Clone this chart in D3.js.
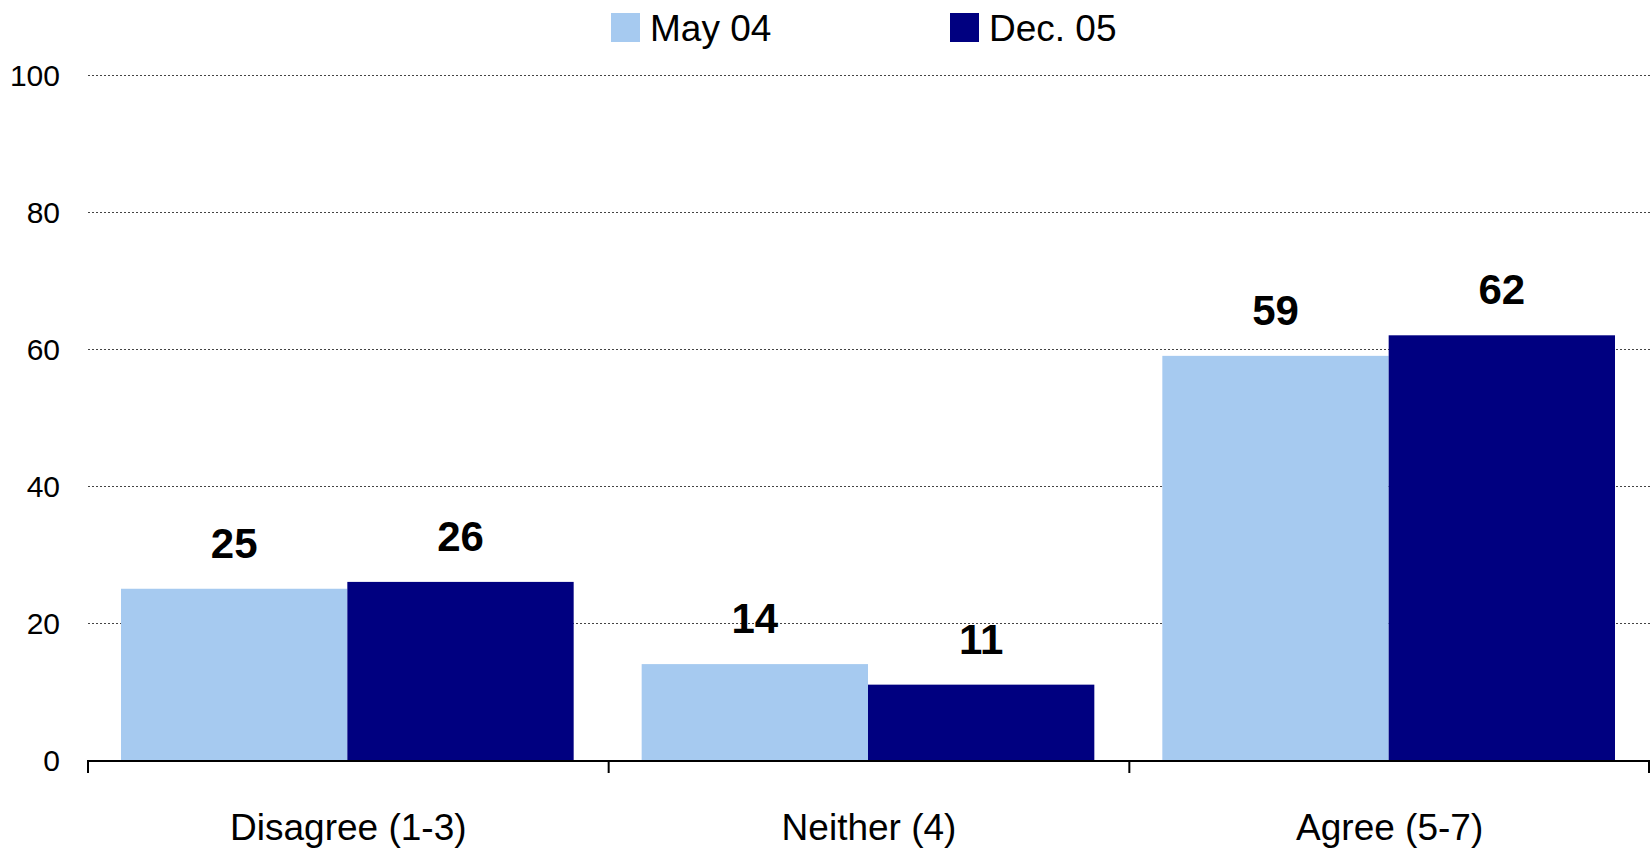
<html>
<head>
<style>
  body { margin: 0; background: #fff; }
  text { font-family: "Liberation Sans", Arial, sans-serif; }
</style>
</head>
<body>
<svg id="chart" width="1650" height="849"></svg>
<script src="https://cdn.jsdelivr.net/npm/d3@7"></script>
<script>
const categories = ["Disagree (1-3)", "Neither (4)", "Agree (5-7)"]
const seriesNames = ["May 04", "Dec. 05"]
const may04 = [25, 14, 59]
const dec05 = [26, 11, 62]
const yTicks = [0, 20, 40, 60, 80, 100]
const colors = ["#A6CAF0", "#000080"]

let svg = d3.select("#chart")

let plotLeft = 88, plotRight = 1650, plotTop = 75, plotBottom = 760

let x0 = d3.scaleBand().domain(categories).range([plotLeft, plotRight])
let x1 = d3.scaleBand().domain(seriesNames).range([33, x0.bandwidth() - 35])
let y = d3.scaleLinear().domain([0, 100]).range([plotBottom, plotTop])
let color = d3.scaleOrdinal().domain(seriesNames).range(colors)

// gridlines
svg.append("g")
  .selectAll("line")
  .data(yTicks.filter(d => d > 0))
  .enter()
  .append("line")
  .attr("x1", plotLeft)
  .attr("x2", plotRight)
  .attr("y1", d => y(d) + 0.5)
  .attr("y2", d => y(d) + 0.5)
  .attr("stroke", "#444")
  .attr("stroke-width", 1)
  .attr("stroke-dasharray", "2,2")

// y labels
svg.append("g")
  .selectAll("text")
  .data(yTicks)
  .enter()
  .append("text")
  .attr("x", 60)
  .attr("y", d => y(d))
  .attr("dy", "0.36em")
  .attr("text-anchor", "end")
  .attr("font-size", 30)
  .attr("fill", "#000")
  .text(d => d)

let rows = categories.map((c, i) => ({cat: c, values: [may04[i], dec05[i]]}))

let groups = svg.selectAll(".cat")
  .data(rows)
  .enter()
  .append("g")
  .attr("class", "cat")
  .attr("transform", d => "translate(" + x0(d.cat) + ",0)")

groups.selectAll("rect")
  .data(d => d.values.map((v, i) => ({name: seriesNames[i], value: v})))
  .enter()
  .append("rect")
  .attr("x", d => x1(d.name))
  .attr("width", x1.bandwidth())
  .attr("y", d => y(d.value))
  .attr("height", d => y(0) - y(d.value))
  .attr("fill", d => color(d.name))

groups.selectAll(".val")
  .data(d => d.values.map((v, i) => ({name: seriesNames[i], value: v})))
  .enter()
  .append("text")
  .attr("class", "val")
  .attr("x", d => x1(d.name) + x1.bandwidth() / 2)
  .attr("y", d => y(d.value) - 31)
  .attr("text-anchor", "middle")
  .attr("font-size", 42)
  .attr("font-weight", "bold")
  .attr("fill", "#000")
  .text(d => d.value)

// x axis
let xAxis = d3.axisBottom(x0).tickSize(0).tickFormat(d => d)
let ax = svg.append("g")
  .attr("transform", "translate(0," + plotBottom + ")")
  .call(xAxis)
ax.select(".domain").remove()
ax.selectAll("text")
  .attr("font-size", 37)
  .attr("font-family", "'Liberation Sans', Arial, sans-serif")
  .attr("fill", "#000")
  .attr("dy", null)
  .attr("y", 80)

svg.append("line")
  .attr("x1", plotLeft).attr("x2", plotRight)
  .attr("y1", plotBottom + 1).attr("y2", plotBottom + 1)
  .attr("stroke", "#000").attr("stroke-width", 2)

let tickXs = categories.map(c => x0(c)).concat([plotRight - 1])
svg.append("g")
  .selectAll("line")
  .data(tickXs)
  .enter()
  .append("line")
  .attr("x1", d => d).attr("x2", d => d)
  .attr("y1", plotBottom).attr("y2", plotBottom + 13)
  .attr("stroke", "#000").attr("stroke-width", 2)

// legend
let legendX = [611, 950]
let legend = svg.append("g")
  .selectAll("g")
  .data(seriesNames)
  .enter()
  .append("g")
  .attr("transform", (d, i) => "translate(" + legendX[i] + ",0)")
legend.append("rect")
  .attr("x", 0).attr("y", 13)
  .attr("width", 29).attr("height", 29)
  .attr("fill", d => color(d))
legend.append("text")
  .attr("x", 39).attr("y", 41)
  .attr("font-size", 37)
  .attr("fill", "#000")
  .text(d => d)
</script>
</body>
</html>
